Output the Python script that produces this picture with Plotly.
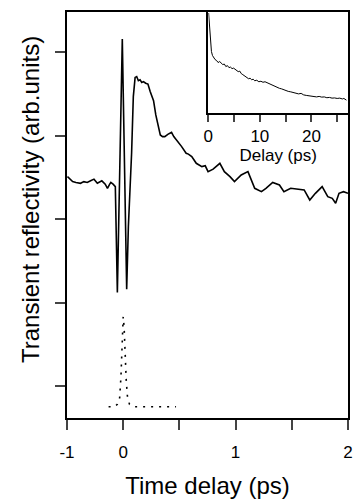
import plotly.graph_objects as go

# Transient reflectivity trace (ps, arb. units)
delay_ps = [-0.496, -0.45, -0.42, -0.38, -0.35, -0.32, -0.29, -0.26, -0.23, -0.21,
            -0.19, -0.16, -0.14, -0.12, -0.11, -0.09, -0.07, -0.052, -0.008, 0.031,
            0.046, 0.075, 0.09, 0.106, 0.12, 0.135, 0.15, 0.165, 0.18, 0.20,
            0.22, 0.24, 0.27, 0.29, 0.31, 0.33, 0.35, 0.37, 0.40, 0.43,
            0.45, 0.475, 0.52, 0.56, 0.58, 0.61, 0.65, 0.70, 0.73, 0.755,
            0.80, 0.86, 0.90, 0.95, 0.99, 1.05, 1.11, 1.17, 1.23, 1.27,
            1.33, 1.39, 1.43, 1.49, 1.55, 1.61, 1.66, 1.71, 1.77, 1.82,
            1.86, 1.89, 1.92, 1.96, 2.0]
reflectivity = [2.51, 2.45, 2.44, 2.43, 2.45, 2.44, 2.46, 2.48, 2.43, 2.45,
                2.46, 2.42, 2.37, 2.42, 2.44, 2.42, 2.39, 1.12, 4.16, 1.16,
                1.91, 2.80, 3.47, 3.70, 3.71, 3.66, 3.67, 3.64, 3.65, 3.63,
                3.62, 3.53, 3.42, 3.25, 3.11, 3.01, 2.99, 2.99, 3.02, 3.04,
                2.99, 2.95, 2.87, 2.79, 2.78, 2.75, 2.67, 2.63, 2.64, 2.57,
                2.60, 2.67, 2.57, 2.51, 2.45, 2.53, 2.57, 2.37, 2.33, 2.37,
                2.44, 2.41, 2.33, 2.37, 2.36, 2.35, 2.23, 2.31, 2.39, 2.27,
                2.25, 2.19, 2.31, 2.33, 2.31]

# Pump pulse cross-correlation (dotted)
pulse_t = [-0.13, -0.08, -0.052, -0.033, -0.02, -0.012, -0.003, 0.0, 0.008,
           0.018, 0.027, 0.038, 0.056, 0.10, 0.20, 0.30, 0.40, 0.47]
pulse_y = [-0.25, -0.25, -0.22, -0.17, 0.11, 0.43, 0.76, 0.83, 0.71,
           0.35, 0.07, -0.13, -0.22, -0.25, -0.25, -0.25, -0.25, -0.25]

# Long-delay decay (inset)
inset_t = [0.05, 0.15, 0.3, 0.45, 0.6, 0.8, 1.0, 1.3, 1.6, 1.9, 2.2, 2.5, 2.8, 3.1,
           3.4, 3.7, 4.0, 4.3, 4.6, 4.9, 5.2, 5.5, 5.8, 6.1, 6.4, 6.7, 7.2, 7.5,
           7.8, 8.1, 8.4, 8.7, 9.0, 9.4, 9.8, 10.2, 10.6, 11.0, 11.4, 11.8, 12.2,
           12.6, 13.0, 13.4, 13.8, 14.2, 14.6, 15.0, 15.5, 16.0, 16.5, 17.0, 17.5,
           18.0, 18.5, 19.0, 19.5, 20.0, 20.5, 21.0, 21.5, 22.0, 22.5, 23.0, 23.5,
           24.0, 24.5, 25.0, 25.5, 26.0, 26.3, 26.6, 26.8]
inset_y = [0.99, 0.90, 0.75, 0.66, 0.61, 0.57, 0.55, 0.53, 0.52, 0.50, 0.51, 0.49,
           0.48, 0.485, 0.46, 0.47, 0.45, 0.455, 0.44, 0.445, 0.43, 0.425, 0.41,
           0.415, 0.39, 0.38, 0.36, 0.355, 0.34, 0.345, 0.33, 0.335, 0.32, 0.325,
           0.31, 0.315, 0.305, 0.31, 0.30, 0.29, 0.285, 0.27, 0.265, 0.25, 0.245,
           0.24, 0.23, 0.225, 0.215, 0.21, 0.205, 0.20, 0.19, 0.195, 0.18, 0.175,
           0.17, 0.172, 0.165, 0.16, 0.165, 0.158, 0.16, 0.152, 0.155, 0.148,
           0.15, 0.145, 0.148, 0.14, 0.145, 0.132, 0.128]

main_xticks = [-0.5, 0, 0.5, 1, 1.5, 2]
main_xlabels = ["-1", "0", "", "1", "", "2"]
inset_xticks = [0, 5, 10, 15, 20, 25]
inset_xlabels = ["0", "", "10", "", "20", ""]

FONT = "Liberation Sans, Arial, sans-serif"

fig = go.Figure()
fig.add_trace(go.Scatter(x=delay_ps, y=reflectivity, mode="lines",
                         line=dict(color="black", width=1.6), showlegend=False))
fig.add_trace(go.Scatter(x=pulse_t, y=pulse_y, mode="lines",
                         line=dict(color="black", width=1.6, dash="2px,6px"),
                         showlegend=False))
fig.add_trace(go.Scatter(x=inset_t, y=inset_y, mode="lines", xaxis="x2", yaxis="y2",
                         line=dict(color="black", width=1), showlegend=False))

fig.update_layout(
    width=354, height=499,
    margin=dict(l=67, r=6, t=12, b=81),
    paper_bgcolor="white", plot_bgcolor="white",
    font=dict(family=FONT, color="black"),
    xaxis=dict(range=[-0.5, 2], tickvals=main_xticks, ticktext=main_xlabels,
               ticks="outside", ticklen=10, tickwidth=1.5, tickfont=dict(size=17),
               ticklabelstandoff=8, automargin=False,
               showline=True, linewidth=1.8, linecolor="black", mirror=True,
               showgrid=False, zeroline=False,
               title=dict(text="Time delay (ps)", font=dict(size=24), standoff=18)),
    yaxis=dict(range=[-0.384, 4.484], tickvals=[0, 1, 2, 3, 4], ticktext=[""] * 5,
               ticks="outside", ticklen=10, tickwidth=1.5, automargin=False,
               showline=True, linewidth=1.8, linecolor="black", mirror=True,
               showgrid=False, zeroline=False),
    xaxis2=dict(domain=[0.503, 1.0], anchor="y2", range=[0, 27.1],
                tickvals=inset_xticks, ticktext=inset_xlabels, automargin=False,
                ticks="outside", ticklen=7, tickwidth=1.5, tickfont=dict(size=17),
                showline=True, linewidth=1.5, linecolor="black", mirror=True,
                showgrid=False, zeroline=False,
                title=dict(text="Delay (ps)", font=dict(size=17), standoff=4)),
    yaxis2=dict(domain=[0.751, 1.0], anchor="x2", range=[0, 1], automargin=False,
                showticklabels=False, ticks="",
                showline=True, linewidth=1.5, linecolor="black", mirror=True,
                showgrid=False, zeroline=False),
    annotations=[dict(text="Transient reflectivity (arb.units)", textangle=-90,
                      xref="paper", yref="paper", x=-0.132, y=0.539,
                      xanchor="center", yanchor="middle", showarrow=False,
                      font=dict(size=24, family=FONT, color="black"))],
)

fig.write_html("out.html")
